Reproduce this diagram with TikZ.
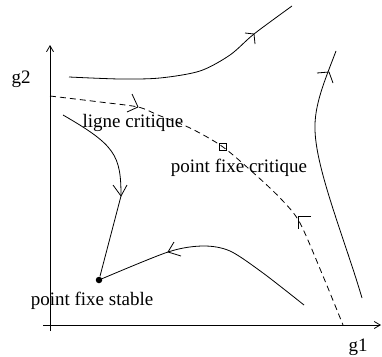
\documentclass[tikz,border=0pt]{standalone}
\usepackage{fontspec}
\setmainfont{Liberation Serif}
\usetikzlibrary{arrows.meta}
\begin{document}
\begin{tikzpicture}[x=1pt,y=-1pt,line width=0.8pt,
  lbl/.style={anchor=base,inner sep=0pt,font=\fontsize{19}{22}\selectfont},
  critline/.style={dash pattern=on 6pt off 4pt},
  traj/.style={line width=0.8pt},
  barb/.style={line width=0.8pt,line join=miter},
  axisline/.style={line width=0.8pt,-{Straight Barb[length=6pt,width=7pt]}}]
\useasboundingbox (0,0) rectangle (382,356);
% axes
\coordinate (ybot) at (50,331);
\coordinate (ytop) at (50,45);
\coordinate (xleft) at (43,325);
\coordinate (xright) at (381,325);
\draw[axisline] (ybot) -- (ytop);
\draw[axisline] (xleft) -- (xright);
\node[lbl] (g2label) at (21,83) {g2};
\node[lbl] (g1label) at (358,351) {g1};
% fixed points
\node[circle,fill,inner sep=0pt,minimum size=6.5pt] (stable) at (99,280) {};
\node[draw,inner sep=0pt,minimum size=7pt,line width=0.7pt] (crit) at (223,147) {};
% critical line
\draw[critline] plot[smooth] coordinates {(50,96) (100,102) (138,107) (158,115) (190,128) (223,147) (258,177) (282,200) (300,223) (323,276) (343,325)};
\draw[barb] (132,94) -- (138,107) -- (127,112);
\draw[barb] (311,216) -- (298,216) -- (298,229);
% top trajectory
\draw[traj] plot[smooth] coordinates {(69,77) (120,79) (160,78) (200,71) (230,55) (254,34) (292,6)};
\draw[barb] (245,33) -- (254,34) -- (255,44);
% left trajectory to stable point
\coordinate (c2start) at (63,115);
\coordinate (c2turn) at (121,196);
\draw[traj] (c2start) .. controls (115,145) and (121,155) .. (c2turn) -- (stable);
\draw[barb] (113,185) -- (121,196) -- (127,185);
% bottom trajectory to stable point
\draw[traj] plot[smooth] coordinates {(99,280) (168,252) (203,246) (230,251) (263,273) (304,305)};
\draw[barb] (174,242) -- (168,252) -- (181,256);
% right trajectory
\coordinate (c4top) at (336,51);
\coordinate (c4mid) at (315,130);
\coordinate (c4bot) at (362,298);
\draw[traj] (c4top) .. controls (325,80) and (314,105) .. (c4mid) .. controls (316,170) and (345,240) .. (c4bot);
\draw[barb] (317,73) -- (329,72) -- (333,83);
% labels
\node[lbl] (ligne) at (133,127) {ligne critique};
\node[lbl] (pfc) at (239,172) {point fixe critique};
\node[lbl] (pfs) at (92,305) {point fixe stable};
\end{tikzpicture}
\end{document}
